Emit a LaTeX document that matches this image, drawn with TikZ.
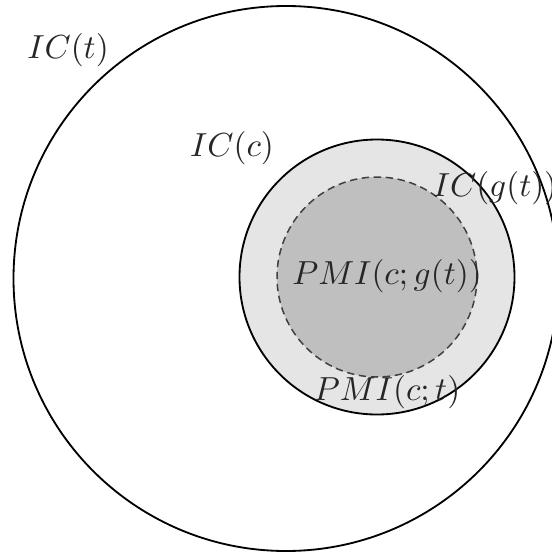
\documentclass[tikz,border=0pt]{standalone}
\begin{document}
\begin{tikzpicture}[x=0.3pt,y=-0.3pt,
  solidring/.style={draw=black,line width=0.55pt},
  dashring/.style={draw=black!75,line width=0.45pt,dash pattern=on 2.2pt off 1.4pt},
  lbl/.style={inner sep=0pt,text=black!85}]
\useasboundingbox (0,0) rectangle (552,555);
\coordinate (co) at (286,278.5);
\coordinate (ci) at (377,277);
\draw[solidring] (co) circle[radius=272.5];
\fill[black!10] (ci) circle[radius=137.5];
\fill[black!25] (ci) circle[radius=100];
\draw[dashring] (ci) circle[radius=100];
\draw[solidring] (ci) circle[radius=137.5];
\node[lbl] (ict) at (68,50) {$IC(t)$};
\node[lbl] (icc) at (232,148) {$IC(c)$};
\node[lbl] (icg) at (495,188) {$IC(g(t))$};
\node[lbl] (pmig) at (387,276) {$PMI(c;g(t))$};
\node[lbl] (pmit) at (387,392) {$PMI(c;t)$};
\end{tikzpicture}
\end{document}
